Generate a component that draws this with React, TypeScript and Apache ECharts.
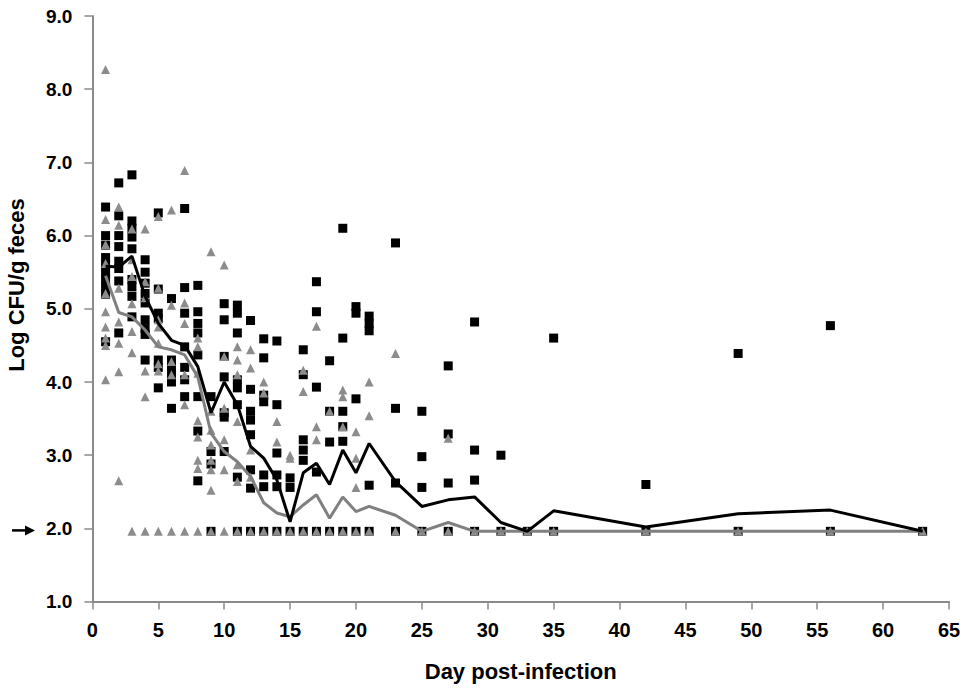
import React, { useEffect, useRef } from "react";
import * as echarts from "echarts";

// Sampling days (x)
const sampleDays = [1, 2, 3, 4, 5, 6, 7, 8, 9, 10, 11, 12, 13, 14, 15, 16, 17, 18, 19, 20, 21, 23, 25, 27, 29, 31, 33, 35, 42, 49, 56, 63];

// Black squares: individual values per sampling day (aligned with sampleDays)
const squareValues: number[][] = [
  [6.39, 6.0, 5.87, 5.7, 5.6, 5.5, 5.4, 5.3, 5.2, 4.55],
  [6.72, 6.27, 6.0, 5.85, 5.65, 5.55, 5.38, 4.67],
  [6.83, 6.2, 6.1, 5.98, 5.82, 5.4, 5.3, 5.17, 4.89],
  [5.67, 5.5, 5.35, 5.21, 5.08, 4.85, 4.73, 4.65, 4.3],
  [6.31, 5.27, 4.94, 4.87, 4.3, 4.2, 3.92],
  [5.14, 4.3, 4.2, 4.12, 4.0, 3.64],
  [6.37, 5.29, 4.94, 4.48, 4.2, 4.03, 3.8],
  [5.32, 4.96, 4.8, 4.67, 4.37, 3.8, 3.33, 2.65],
  [3.8, 3.05, 2.88, 1.96],
  [5.07, 4.85, 4.35, 4.07, 3.58, 3.52, 3.05],
  [5.05, 4.94, 4.67, 4.03, 3.92, 3.69, 2.7, 1.96],
  [4.84, 3.9, 3.6, 3.48, 3.28, 2.8, 2.55, 1.96],
  [4.59, 4.33, 3.82, 3.73, 2.73, 2.57, 1.96],
  [4.56, 3.69, 3.03, 2.73, 2.57, 1.96],
  [2.69, 2.56, 1.96],
  [4.44, 4.1, 3.21, 3.07, 2.93, 1.96],
  [5.37, 4.96, 3.93, 2.77, 1.96],
  [4.29, 3.6, 3.18, 1.96],
  [6.1, 4.6, 3.6, 3.39, 3.19, 1.96],
  [5.03, 4.94, 3.77, 1.96],
  [4.9, 4.8, 4.7, 2.59, 1.96],
  [5.9, 3.64, 2.62, 1.96],
  [3.6, 2.98, 2.56, 1.96],
  [4.22, 3.29, 2.62, 1.96],
  [4.82, 3.07, 2.66, 1.96],
  [3.0, 1.96],
  [1.96],
  [4.6, 1.96],
  [2.6, 1.96],
  [4.39, 1.96],
  [4.77, 1.96],
  [1.96],
];

// Grey triangles: individual values per sampling day
const triangleValues: number[][] = [
  [8.27, 6.22, 5.88, 5.62, 5.21, 4.96, 4.75, 4.6, 4.5, 4.03],
  [6.39, 6.14, 5.28, 4.82, 4.53, 4.14, 2.65],
  [6.09, 5.67, 5.44, 5.07, 4.69, 4.4, 1.96],
  [6.09, 5.37, 5.15, 4.15, 3.8, 1.96],
  [6.26, 5.28, 4.85, 4.75, 4.53, 4.25, 4.15, 1.96],
  [6.35, 5.05, 4.28, 4.1, 1.96],
  [6.89, 5.08, 4.8, 4.1, 3.69, 1.96],
  [4.6, 4.48, 4.12, 3.47, 3.25, 2.93, 2.82, 1.96],
  [5.78, 3.6, 3.34, 3.14, 2.93, 2.8, 2.52, 1.96],
  [5.6, 4.35, 3.64, 3.21, 2.8, 1.96],
  [4.48, 4.3, 4.1, 3.46, 2.87, 2.64, 1.96],
  [4.44, 4.19, 3.07, 2.7, 1.96],
  [4.0, 3.85, 1.96],
  [3.46, 3.18, 1.96],
  [3.0, 2.96, 1.96],
  [4.16, 3.87, 1.96],
  [4.76, 3.39, 3.21, 1.96],
  [3.6, 1.96],
  [3.89, 3.8, 3.39, 1.96],
  [3.32, 2.96, 2.56, 1.96],
  [4.0, 3.54, 1.96],
  [4.39, 1.96],
  [1.96],
  [3.23, 1.96],
  [1.96],
  [1.96],
  [1.96],
  [1.96],
  [1.96],
  [1.96],
  [1.96],
  [1.96],
];

// Mean lines
const blackMean = [5.58, 5.57, 5.72, 5.17, 4.8, 4.57, 4.5, 4.21, 3.58, 4.0, 3.69, 3.12, 2.96, 2.66, 2.09, 2.76, 2.89, 2.6, 3.07, 2.76, 3.16, 2.64, 2.3, 2.39, 2.43, 2.08, 1.96, 2.24, 2.02, 2.2, 2.25, 1.96];
const grayMean = [5.45, 4.95, 4.89, 4.71, 4.48, 4.44, 4.37, 4.07, 3.3, 3.05, 2.91, 2.71, 2.35, 2.21, 2.16, 2.32, 2.46, 2.14, 2.43, 2.23, 2.3, 2.18, 1.96, 2.08, 1.96, 1.96, 1.96, 1.96, 1.96, 1.96, 1.96, 1.96];

const detectionLimit = 2.0;
const xTitle = "Day post-infection";
const yTitle = "Log CFU/g feces";

const FONT = "'Liberation Sans', Arial, sans-serif";
const AXIS_GRAY = "#8a8a8a";
const TRI_GRAY = "#8c8c8c";

export default function App() {
  const ref = useRef<HTMLDivElement>(null);

  useEffect(() => {
    document.body.style.margin = "0";
    if (!ref.current) return;
    const chart = echarts.init(ref.current, undefined, { renderer: "svg" });

    const squares = sampleDays.flatMap((d, i) => squareValues[i].map((v) => [d, v]));
    const triangles = sampleDays.flatMap((d, i) => triangleValues[i].map((v) => [d, v]));
    const blackLine = sampleDays.map((d, i) => [d, blackMean[i]]);
    const grayLine = sampleDays.map((d, i) => [d, grayMean[i]]);

    chart.setOption({
      animation: false,
      backgroundColor: "#ffffff",
      grid: { left: 92.4, right: 15, top: 16, bottom: 93.4, containLabel: false, outerBoundsMode: "none" },
      xAxis: {
        type: "value",
        min: 0,
        max: 65,
        interval: 5,
        name: xTitle,
        nameLocation: "middle",
        nameGap: 59,
        nameTextStyle: { fontFamily: FONT, fontWeight: "bold", fontSize: 22, color: "#000" },
        axisLine: { show: true, onZero: false, lineStyle: { color: AXIS_GRAY, width: 2 } },
        axisTick: { show: true, inside: false, length: 8, lineStyle: { color: AXIS_GRAY, width: 1.5 } },
        axisLabel: { fontFamily: FONT, fontWeight: "bold", fontSize: 20, color: "#000", margin: 18 },
        splitLine: { show: false },
      },
      yAxis: {
        type: "value",
        min: 1,
        max: 9,
        interval: 1,
        axisLine: { show: true, onZero: false, lineStyle: { color: AXIS_GRAY, width: 2 } },
        axisTick: { show: true, inside: false, length: 8, lineStyle: { color: AXIS_GRAY, width: 1.5 } },
        axisLabel: {
          fontFamily: FONT,
          fontWeight: "bold",
          fontSize: 19,
          color: "#000",
          margin: 20,
          formatter: (v: number) => v.toFixed(1),
        },
        splitLine: { show: false },
      },
      series: [
        {
          type: "scatter",
          symbol: "rect",
          symbolSize: 9,
          itemStyle: { color: "#000", opacity: 1 },
          data: squares,
          z: 2,
        },
        {
          type: "scatter",
          symbol: "triangle",
          symbolSize: 9,
          itemStyle: { color: TRI_GRAY, opacity: 1 },
          data: triangles,
          z: 3,
        },
        {
          type: "line",
          symbol: "none",
          lineStyle: { color: "#808080", width: 3 },
          data: grayLine,
          z: 4,
        },
        {
          type: "line",
          symbol: "none",
          lineStyle: { color: "#000", width: 3 },
          data: blackLine,
          z: 5,
        },
      ],
    });

    const yArrow = chart.convertToPixel({ yAxisIndex: 0 }, detectionLimit) as number;
    chart.setOption({
      graphic: [
        {
          type: "text",
          x: 16,
          y: 285,
          rotation: Math.PI / 2,
          style: {
            text: yTitle,
            font: `bold 22px ${FONT}`,
            fill: "#000",
            textAlign: "center",
            textVerticalAlign: "middle",
          },
        },
        {
          type: "line",
          shape: { x1: 12, y1: yArrow + 2, x2: 27, y2: yArrow + 2 },
          style: { stroke: "#000", lineWidth: 2.5 },
        },
        {
          type: "polygon",
          shape: { points: [[25, yArrow - 3], [35, yArrow + 2], [25, yArrow + 7]] },
          style: { fill: "#000" },
        },
      ],
    });

    return () => chart.dispose();
  }, []);

  return <div ref={ref} style={{ width: 964, height: 695 }} />;
}
